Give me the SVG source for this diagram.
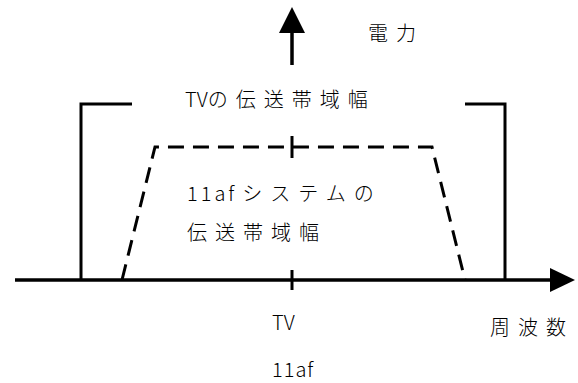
<svg xmlns="http://www.w3.org/2000/svg" width="578" height="383" viewBox="0 0 578 383">
<style>
.ln{stroke:#000;stroke-width:3;fill:none}
.ax{stroke:#000;stroke-width:3.5;fill:none}
.dash{stroke:#000;stroke-width:3;fill:none;stroke-dasharray:16 9}
.t{font-family:"Noto Sans CJK JP","Noto Sans",sans-serif;font-size:20px;font-weight:300;fill:#000}
.cj{letter-spacing:8px}
</style>
<rect width="578" height="383" fill="#fff"/>
<g id="axes">
<line class="ax" x1="15" y1="280" x2="552" y2="280"/>
<polygon points="550,268 550,292 575,280" fill="#000"/>
<line class="ax" x1="292" y1="33" x2="292" y2="65"/>
<polygon points="279,33 305,33 292,7" fill="#000"/>
<line class="ln" x1="292" y1="270" x2="292" y2="290"/>
<line class="ln" x1="292" y1="136" x2="292" y2="158"/>
</g>
<g id="tv-band">
<polyline class="ln" points="132,104 81,104 81,280"/>
<polyline class="ln" points="465,104 505,104 505,280"/>
</g>
<g id="af-band">
<polyline class="dash" points="122,280 155,147 432,147 465,280"/>
</g>
<g id="labels">
<text class="t cj" x="368" y="41">電力</text>
<text class="t" x="185" y="107">TV<tspan class="cj">の伝送帯域幅</tspan></text>
<text class="t" x="187" y="201"><tspan letter-spacing="3">11af</tspan><tspan class="cj" dx="5">システムの</tspan></text>
<text class="t cj" x="187" y="240">伝送帯域幅</text>
<text class="t" x="272" y="330">TV</text>
<text class="t cj" x="490" y="335">周波数</text>
<text class="t" x="272" y="377" letter-spacing="1">11af</text>
</g>
</svg>
